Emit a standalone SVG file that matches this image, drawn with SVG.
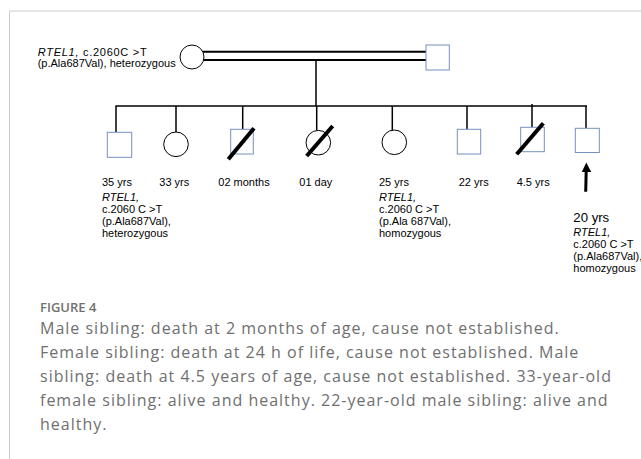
<svg xmlns="http://www.w3.org/2000/svg" width="641" height="459" viewBox="0 0 641 459">
<defs>
<style>
.frame{stroke:#cccccc;stroke-width:1;fill:none}
.sq{fill:#ffffff;stroke:#7590bd;stroke-width:1}
.ci{fill:#ffffff;stroke:#000000;stroke-width:1}
.ln{stroke:#000000;stroke-width:1.5;fill:none}
.dbl{stroke:#000000;stroke-width:2;fill:none}
.dead{stroke:#000000;stroke-width:4;fill:none}
.lb{font-family:"Liberation Sans",Arial,sans-serif;font-size:11px;fill:#000000}
.it{font-style:italic}
.cap{font-family:"Open Sans","Liberation Sans",sans-serif;font-size:16px;letter-spacing:1px;fill:#6f6f6f}
.fig{font-family:"Open Sans","Liberation Sans",sans-serif;font-size:13px;font-weight:600;fill:#707070}
</style>
</defs>
<g id="frame">
<line class="frame" x1="9.5" y1="11" x2="641" y2="11"/>
<line class="frame" x1="9.5" y1="11" x2="9.5" y2="459"/>
</g>
<g id="connectors">
<line class="dbl" x1="202" y1="51.7" x2="426" y2="51.7"/>
<line class="dbl" x1="202" y1="60" x2="427.5" y2="60"/>
<line class="ln" x1="316" y1="60" x2="316" y2="106"/>
<line class="ln" x1="115.5" y1="106" x2="587" y2="106"/>
<line class="ln" x1="116" y1="106" x2="116" y2="132.3"/>
<line class="ln" x1="176" y1="106" x2="176" y2="132"/>
<line class="ln" x1="242.7" y1="106" x2="242.7" y2="129.3"/>
<line class="ln" x1="316.7" y1="106" x2="316.7" y2="130.4"/>
<line class="ln" x1="392.3" y1="106" x2="392.3" y2="130"/>
<line class="ln" x1="467" y1="106" x2="467" y2="129.3"/>
<line class="ln" x1="532" y1="104" x2="532" y2="127.3"/>
<line class="ln" x1="586" y1="106" x2="586" y2="128.3"/>
</g>
<g id="mother">
<circle class="ci" cx="192" cy="57" r="12"/>
<text class="lb" x="37.7" y="56" textLength="109" lengthAdjust="spacing"><tspan class="it">RTEL1,</tspan> c.2060C &gt;T</text>
<text class="lb" x="37.7" y="66.5">(p.Ala687Val), heterozygous</text>
</g>
<g id="father">
<rect class="sq" x="426" y="45" width="23.3" height="25"/>
</g>
<g id="child1">
<rect class="sq" x="107.3" y="132.3" width="24.4" height="25"/>
<text class="lb" x="102" y="186">35 yrs</text>
<text class="lb it" x="102" y="200.5">RTEL1,</text>
<text class="lb" x="102" y="212.8">c.2060 C &gt;T</text>
<text class="lb" x="102" y="225">(p.Ala687Val),</text>
<text class="lb" x="102" y="237">heterozygous</text>
</g>
<g id="child2">
<circle class="ci" cx="176" cy="144.3" r="12.3"/>
<text class="lb" x="159.3" y="186">33 yrs</text>
</g>
<g id="child3">
<rect class="sq" x="230.7" y="129.3" width="22.6" height="24.7"/>
<line class="dead" x1="228.3" y1="159.3" x2="254" y2="128.3"/>
<text class="lb" x="218.3" y="186">02 months</text>
</g>
<g id="child4">
<circle class="ci" cx="318.3" cy="142.7" r="12.3"/>
<line class="dead" x1="306.7" y1="156" x2="332.7" y2="126"/>
<text class="lb" x="299.3" y="186">01 day</text>
</g>
<g id="child5">
<circle class="ci" cx="394.3" cy="142.3" r="12.3"/>
<text class="lb" x="379" y="186">25 yrs</text>
<text class="lb it" x="379" y="200.5">RTEL1,</text>
<text class="lb" x="379" y="212.8">c.2060 C &gt;T</text>
<text class="lb" x="379" y="225">(p.Ala 687Val),</text>
<text class="lb" x="379" y="237">homozygous</text>
</g>
<g id="child6">
<rect class="sq" x="457.3" y="129.3" width="23.4" height="24.7"/>
<text class="lb" x="458.7" y="186">22 yrs</text>
</g>
<g id="child7">
<rect class="sq" x="520.7" y="127.3" width="23.6" height="24.4"/>
<line class="dead" x1="516.7" y1="154.3" x2="543.3" y2="123.3"/>
<text class="lb" x="516.7" y="186">4.5 yrs</text>
</g>
<g id="proband">
<rect class="sq" x="575.3" y="128.3" width="24" height="24.2"/>
<line x1="585.7" y1="191.7" x2="586.2" y2="171" stroke="#000000" stroke-width="3"/>
<polygon points="581.8,172 586.3,162.5 591.2,172" fill="#000000"/>
<text class="lb" x="573.3" y="221.7" style="font-size:13.2px">20 yrs</text>
<text class="lb it" x="573.3" y="235.5">RTEL1,</text>
<text class="lb" x="573.3" y="248">c.2060 C &gt;T</text>
<text class="lb" x="573.3" y="260">(p.Ala687Val),</text>
<text class="lb" x="573.3" y="272">homozygous</text>
</g>
<g id="caption">
<text class="fig" x="40" y="311.5">FIGURE 4</text>
<text class="cap" x="40" y="334">Male sibling: death at 2 months of age, cause not established.</text>
<text class="cap" x="40" y="358">Female sibling: death at 24 h of life, cause not established. Male</text>
<text class="cap" x="40" y="382">sibling: death at 4.5 years of age, cause not established. 33-year-old</text>
<text class="cap" x="40" y="406">female sibling: alive and healthy. 22-year-old male sibling: alive and</text>
<text class="cap" x="40" y="430">healthy.</text>
</g>
</svg>
